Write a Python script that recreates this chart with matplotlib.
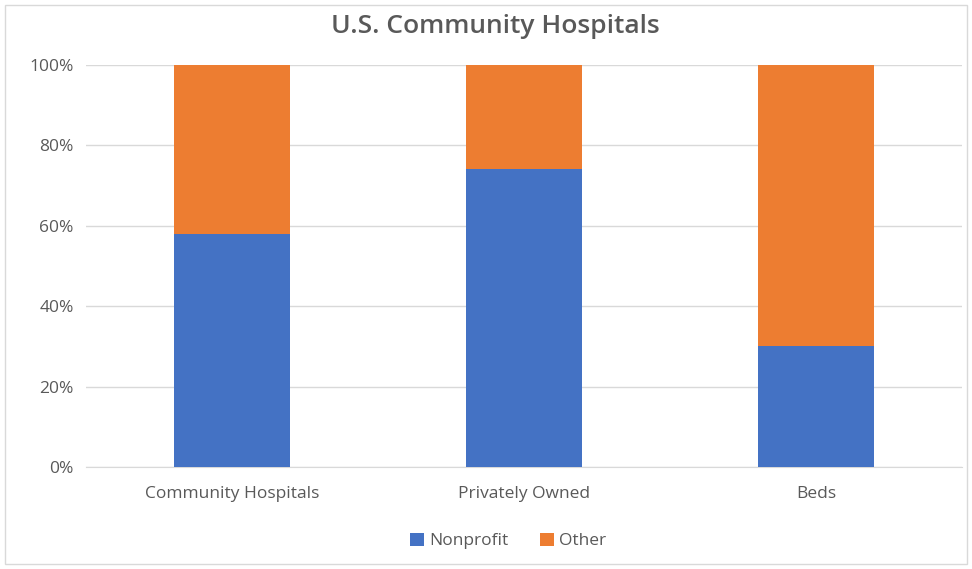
import matplotlib
matplotlib.use("Agg")
import matplotlib.pyplot as plt
from matplotlib.patches import Rectangle
from matplotlib.ticker import PercentFormatter

categories = ["Community Hospitals", "Privately Owned", "Beds"]
nonprofit = [58, 74, 30]
other = [42, 26, 70]

plt.rcParams['font.family'] = ['Open Sans', 'DejaVu Sans']
text_color = "#595959"

fig = plt.figure(figsize=(9.72, 5.69), dpi=100)
ax = fig.add_axes([0.0885, 0.1793, 0.9012, 0.7065])

x = range(len(categories))
ax.bar(x, nonprofit, width=0.4, color="#4472C4", label="Nonprofit", zorder=3)
ax.bar(x, other, width=0.4, bottom=nonprofit, color="#ED7D31", label="Other", zorder=3)

ax.set_xlim(-0.5, 2.5)
ax.set_ylim(0, 100)
ax.set_yticks(range(0, 101, 20))
ax.yaxis.set_major_formatter(PercentFormatter(decimals=0))
ax.set_xticks(list(x))
ax.set_xticklabels(categories)
ax.tick_params(axis="both", length=0, colors=text_color, labelsize=12.5)
ax.tick_params(axis="y", pad=9)
ax.tick_params(axis="x", pad=14)
ax.grid(axis="y", color="#D9D9D9", linewidth=1, zorder=0)
for s in ["top", "right", "left"]:
    ax.spines[s].set_visible(False)
ax.spines["bottom"].set_color("#D9D9D9")

fig.text(0.51, 0.953, "U.S. Community Hospitals", ha="center", va="center",
         fontsize=19, fontweight="semibold", color=text_color)

fig.legend(loc="center", bbox_to_anchor=(0.523, 0.049), ncol=2, frameon=False,
           fontsize=12.5, labelcolor=text_color, handlelength=0.8, handleheight=0.8,
           handletextpad=0.3, columnspacing=1.8)

fig.patches.append(Rectangle((0.005, 0.008), 0.99, 0.984, transform=fig.transFigure,
                             fill=False, edgecolor="#D9D9D9", linewidth=1))

fig.savefig("out.png", dpi=100)
